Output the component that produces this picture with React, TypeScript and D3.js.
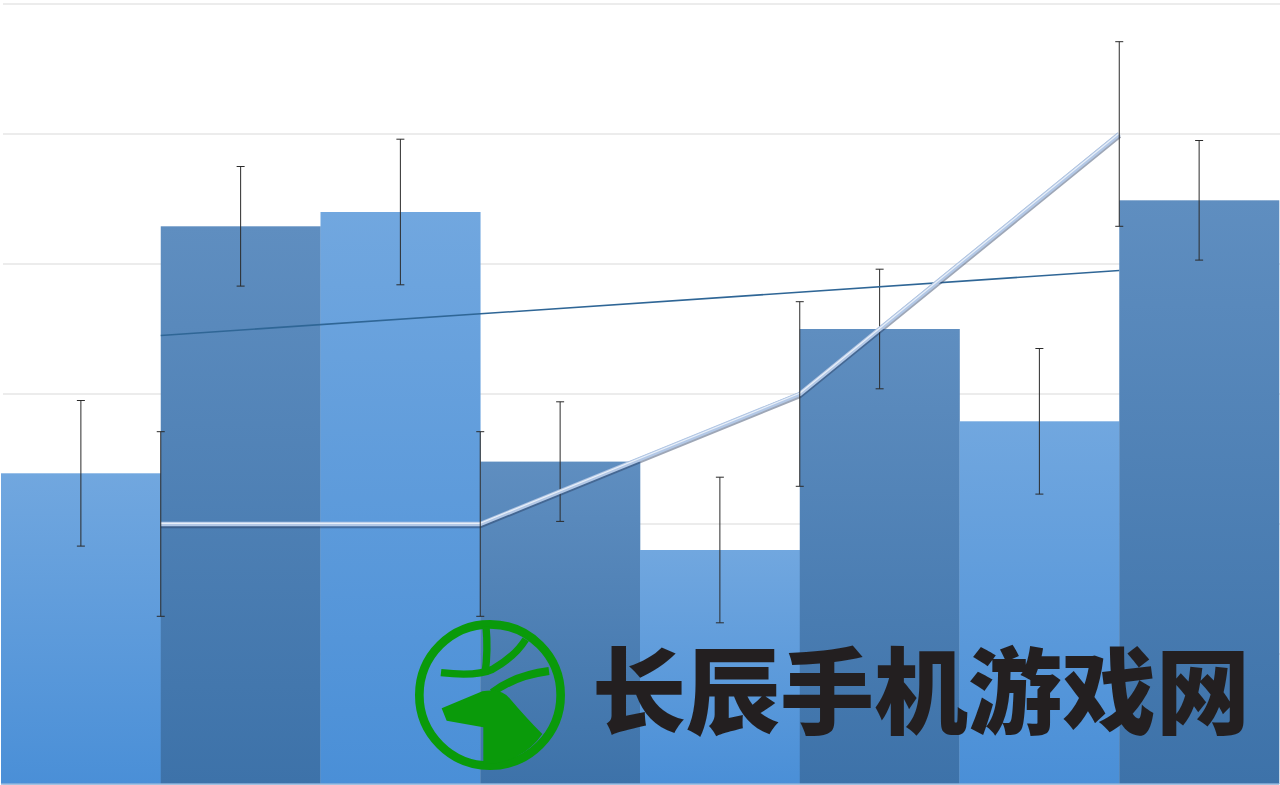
import * as d3 from "d3";

// bar series (8 categories)
const barCats = ["1", "2", "3", "4", "5", "6", "7", "8"];
const barValues = [2.39, 4.29, 4.4, 2.48, 1.8, 3.5, 2.79, 4.49];
const barErrors = [0.56, 0.46, 0.56, 0.46, 0.56, 0.46, 0.56, 0.46];

// line series on secondary category axis (4 categories)
const lineCats = ["A", "B", "C", "D"];
const lineValues = [2, 2, 3, 5];
const lineErrors = [0.71, 0.71, 0.71, 0.71];

// straight thin line: first and last category
const trendCats = ["A", "D"];
const trendValues = [3.45, 3.95];

const yTicks = [0, 1, 2, 3, 4, 5, 6];

const W = 1280;
const H = 785;

export default function App() {
  const x = d3.scaleBand().domain(barCats).range([1, 1279]).padding(0);
  const x2 = d3.scaleBand().domain(lineCats).range([1, 1279]).padding(0);
  const y = d3.scaleLinear().domain([0, 6]).range([784, 4]);

  const linePts = lineCats.map((c, i) => [x2(c)! + x2.bandwidth() / 2, y(lineValues[i])] as [number, number]);
  const linePath = d3.line()(linePts)!;
  const trendPath = d3.line()(
    trendCats.map((c, i) => [x2(c)! + x2.bandwidth() / 2, y(trendValues[i])] as [number, number])
  )!;

  const cap = 4;

  return (
    <div style={{ position: "absolute", left: 0, top: 0 }}>
      <svg width={W} height={H} style={{ display: "block", background: "#fff" }}>
        <defs>
          <linearGradient id="gLight" x1="0" y1="0" x2="0" y2="1">
            <stop offset="0" stopColor="#71a7df" />
            <stop offset="1" stopColor="#4a8fd7" />
          </linearGradient>
          <linearGradient id="gDark" x1="0" y1="0" x2="0" y2="1">
            <stop offset="0" stopColor="#5f8ec0" />
            <stop offset="1" stopColor="#3d72a9" />
          </linearGradient>
        </defs>

        {/* grid */}
        {yTicks.map((t) => (
          <line key={t} x1={3} x2={W} y1={y(t)} y2={y(t)} stroke="#d9d9d9" strokeWidth={1} />
        ))}

        {/* bars */}
        {barCats.map((c, i) => (
          <rect
            key={c}
            x={x(c)}
            y={y(barValues[i])}
            width={x.bandwidth() + 0.3}
            height={y(0) - y(barValues[i])}
            fill={i % 2 === 0 ? "url(#gLight)" : "url(#gDark)"}
          />
        ))}
        <line x1={1} x2={1279} y1={784} y2={784} stroke="#8db3dc" strokeWidth={1.5} />

        {/* bar error bars */}
        {barCats.map((c, i) => {
          const cx = x(c)! + x.bandwidth() / 2;
          const y1 = y(barValues[i] + barErrors[i]);
          const y2 = y(barValues[i] - barErrors[i]);
          return (
            <g key={c} stroke="#2b2b2b" strokeWidth={1}>
              <line x1={cx} x2={cx} y1={y1} y2={y2} />
              <line x1={cx - cap} x2={cx + cap} y1={y1} y2={y1} />
              <line x1={cx - cap} x2={cx + cap} y1={y2} y2={y2} />
            </g>
          );
        })}

        {/* thin straight line */}
        <path d={trendPath} fill="none" stroke="#2f6696" strokeWidth={1.6} />

        {/* line series */}
        <path d={linePath} fill="none" stroke="rgba(40,60,95,0.45)" strokeWidth={6} transform="translate(0,1.2)" strokeLinejoin="round" />
        <path d={linePath} fill="none" stroke="#b3c8e6" strokeWidth={4.5} strokeLinejoin="round" />
        <path d={linePath} fill="none" stroke="#e9f0f9" strokeWidth={1.2} transform="translate(0,-0.7)" strokeLinejoin="round" />

        {/* line error bars */}
        {linePts.map(([cx], i) => {
          const y1 = y(lineValues[i] + lineErrors[i]);
          const y2 = y(lineValues[i] - lineErrors[i]);
          return (
            <g key={i} stroke="#2b2b2b" strokeWidth={1}>
              <line x1={cx} x2={cx} y1={y1} y2={y2} />
              <line x1={cx - cap} x2={cx + cap} y1={y1} y2={y1} />
              <line x1={cx - cap} x2={cx + cap} y1={y2} y2={y2} />
            </g>
          );
        })}

        {/* watermark logo */}
        <g transform="translate(405,610) scale(0.3333)" fill="none" stroke="#0a9a0a" strokeLinecap="butt">
          <circle cx={255} cy={255} r={212} strokeWidth={26} />
          <path d="M108,188 Q215,200 262,178 Q330,140 362,88" strokeWidth={22} />
          <path d="M243,50 Q250,120 240,192" strokeWidth={22} />
          <path d="M262,248 Q330,196 432,183" strokeWidth={24} />
          <path
            d="M110,295 L232,244 Q290,234 315,266 Q365,325 412,372 A205 205 0 0 1 235,462 L235,352 L125,332 Z"
            fill="#0a9a0a"
            stroke="none"
          />
        </g>
        <text
          x={592}
          y={727}
          fontFamily="'Noto Sans CJK SC', sans-serif"
          fontWeight={900}
          fontSize={94}
          fill="#231f20"
        >
          长辰手机游戏网
        </text>
      </svg>
    </div>
  );
}
